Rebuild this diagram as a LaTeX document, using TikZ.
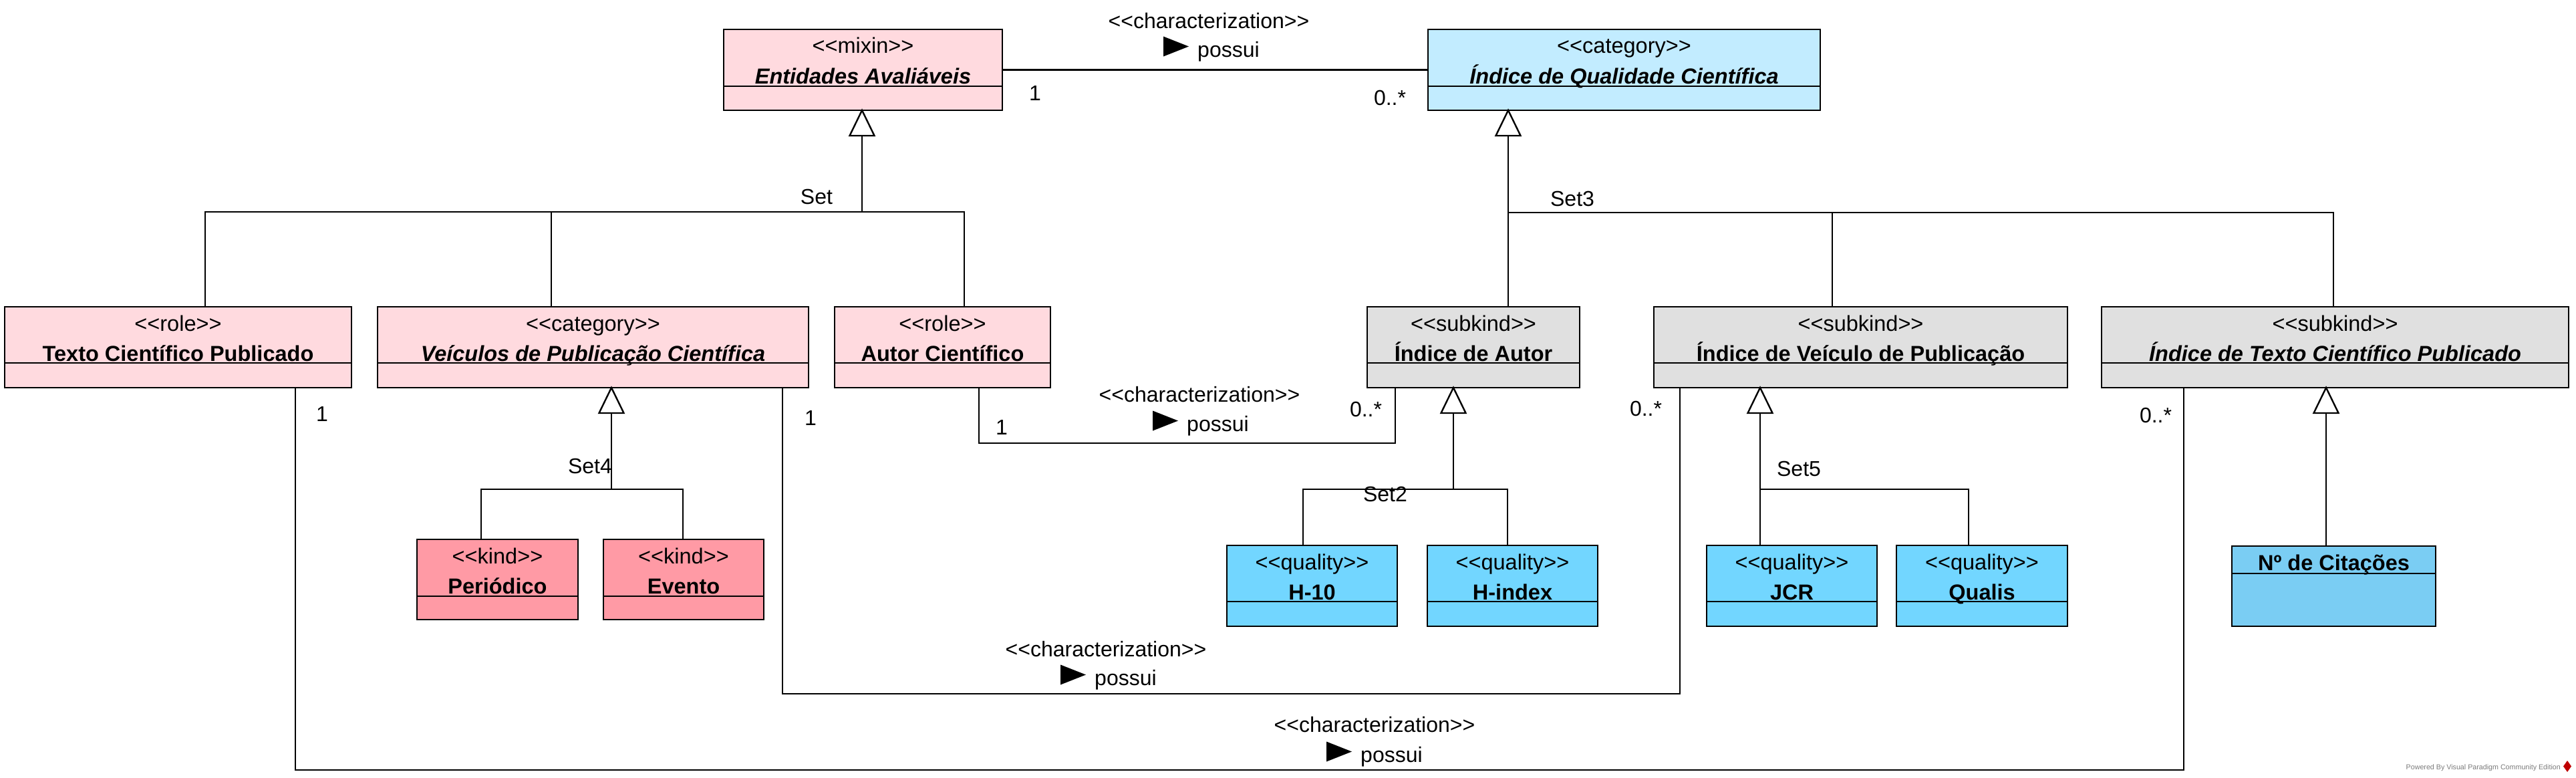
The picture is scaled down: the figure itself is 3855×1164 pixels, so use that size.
\documentclass[tikz,border=0pt]{standalone}
\usepackage{fontspec}
\setmainfont{Liberation Sans}
\usetikzlibrary{calc}
\definecolor{pinkL}{HTML}{FFDADF}
\definecolor{pinkK}{HTML}{FF9AA5}
\definecolor{blueC}{HTML}{C2ECFF}
\definecolor{grayS}{HTML}{E0E0E0}
\definecolor{blueQ}{HTML}{72D6FF}
\definecolor{blueN}{HTML}{7ACDF3}
\definecolor{footgray}{HTML}{7A7A7A}
\newcommand\lgu{<\kern0pt<}
\newcommand\rgu{>\kern0pt>}
\tikzset{
  umlbox/.style={draw=black, line width=2.8pt, inner sep=0pt, outer sep=0pt},
  divline/.style={draw=black, line width=2.8pt},
  conn/.style={draw=black, line width=2.2pt},
  gentri/.style={draw=black, line width=2.4pt, fill=white, line join=miter},
  stereo/.style={font=\fontsize{32.5}{38}\selectfont, anchor=base, inner sep=0pt},
  cname/.style={font=\fontsize{32.5}{38}\selectfont\bfseries, anchor=base, inner sep=0pt},
  lbl/.style={font=\fontsize{32}{38}\selectfont, anchor=base, inner sep=0pt},
  lblw/.style={font=\fontsize{32}{38}\selectfont, anchor=base west, inner sep=0pt},
}
% name, x1, y1, x2, y2, ydiv, fill, stereotype, title
\newcommand\umlclass[9]{%
  \node[umlbox, fill=#7, minimum width={#4-#2}, minimum height={#5-#3}] (#1) at ({(#2+#4)/2},{(#3+#5)/2}) {};
  \draw[divline] (#2,#6) -- (#4,#6);
  \node[stereo] (#1-st) at ({(#2+#4)/2},{#3+36}) {#8};
  \node[cname] (#1-nm) at ({(#2+#4)/2},{#3+81}) {#9};
}
\newcommand\gtri[1]{\draw[gentri] (#1) -- ++(-18.5,38) -- ++(37,0) -- cycle;}
\newcommand\possuitri[1]{\fill[black] ($(#1.base west)+(-51,-30.5)$) -- ++(38,15) -- ++(-38,15) -- cycle;}
\begin{document}
\begin{tikzpicture}[x=1pt,y=-1pt]
\useasboundingbox (0,0) rectangle (3855,1164);

% ---------- classes ----------
\umlclass{ent}{1083}{44}{1500}{165}{129}{pinkL}{\lgu mixin\rgu}{\itshape Entidades Avaliáveis}
\umlclass{iqc}{2137}{44}{2724}{165}{129}{blueC}{\lgu category\rgu}{\itshape Índice de Qualidade Científica}
\umlclass{tcp}{7}{459}{526}{580}{543}{pinkL}{\lgu role\rgu}{Texto Científico Publicado}
\umlclass{vpc}{565}{459}{1210}{580}{543}{pinkL}{\lgu category\rgu}{\itshape Veículos de Publicação Científica}
\umlclass{aut}{1249}{459}{1572}{580}{543}{pinkL}{\lgu role\rgu}{Autor Científico}
\umlclass{ida}{2046}{459}{2364}{580}{543}{grayS}{\lgu subkind\rgu}{Índice de Autor}
\umlclass{ivp}{2475}{459}{3094}{580}{543}{grayS}{\lgu subkind\rgu}{Índice de Veículo de Publicação}
\umlclass{itc}{3145}{459}{3844}{580}{543}{grayS}{\lgu subkind\rgu}{\itshape Índice de Texto Científico Publicado}
\umlclass{per}{624}{807}{865}{927}{892}{pinkK}{\lgu kind\rgu}{Periódico}
\umlclass{evt}{903}{807}{1143}{927}{892}{pinkK}{\lgu kind\rgu}{Evento}
\umlclass{h10}{1836}{816}{2091}{937}{900}{blueQ}{\lgu quality\rgu}{H-10}
\umlclass{hix}{2136}{816}{2391}{937}{900}{blueQ}{\lgu quality\rgu}{H-index}
\umlclass{jcr}{2554}{816}{2809}{937}{900}{blueQ}{\lgu quality\rgu}{JCR}
\umlclass{qua}{2838}{816}{3094}{937}{900}{blueQ}{\lgu quality\rgu}{Qualis}
\node[umlbox, fill=blueN, minimum width=305, minimum height=120] (cit) at (3492.5,877) {};
\draw[divline] (3340,858) -- (3645,858);
\node[cname] (cit-nm) at (3492.5,853) {Nº de Citações};

% ---------- generalization sets ----------
% Set
\coordinate (tEnt) at ($(ent.south west)+(207,0)$);
\coordinate (jEnt) at ($(tEnt)+(0,152)$);
\draw[conn] ($(tEnt)+(0,38)$) -- (jEnt);
\draw[conn] ($(tcp.north west)+(300,0)$) |- (jEnt);
\draw[conn] ($(vpc.north west)+(260,0)$) |- (jEnt);
\draw[conn] ($(aut.north west)+(194,0)$) |- (jEnt);
\gtri{tEnt}
\node[lbl] (setA) at (1222,305) {Set};

% Set3
\coordinate (tIqc) at ($(iqc.south west)+(120,0)$);
\coordinate (jIqc) at ($(tIqc)+(0,153)$);
\draw[conn] ($(tIqc)+(0,38)$) -- ($(ida.north west)+(211,0)$);
\draw[conn] ($(ivp.north west)+(267,0)$) |- (jIqc);
\draw[conn] ($(itc.north west)+(347,0)$) |- (jIqc);
\gtri{tIqc}
\node[lbl] (setC) at (2353,308) {Set3};

% Set4
\coordinate (tVpc) at ($(vpc.south west)+(350,0)$);
\coordinate (jVpc) at ($(tVpc)+(0,152)$);
\draw[conn] ($(tVpc)+(0,38)$) -- (jVpc);
\draw[conn] ($(per.north west)+(96,0)$) |- (jVpc);
\draw[conn] ($(evt.north west)+(119,0)$) |- (jVpc);
\gtri{tVpc}
\node[lbl] (setD) at (883,708) {Set4};

% Set2
\coordinate (tIda) at ($(ida.south west)+(129,0)$);
\coordinate (jIda) at ($(tIda)+(0,152)$);
\draw[conn] ($(tIda)+(0,38)$) -- (jIda);
\draw[conn] ($(h10.north west)+(114,0)$) |- (jIda);
\draw[conn] ($(hix.north west)+(120,0)$) |- (jIda);
\gtri{tIda}
\node[lbl] (setB) at (2073,750) {Set2};

% Set5
\coordinate (tIvp) at ($(ivp.south west)+(159,0)$);
\coordinate (jIvp) at ($(tIvp)+(0,152)$);
\draw[conn] ($(tIvp)+(0,38)$) -- ($(jcr.north west)+(80,0)$);
\draw[conn] ($(qua.north west)+(108,0)$) |- (jIvp);
\gtri{tIvp}
\node[lbl] (setE) at (2692,712) {Set5};

% Indice de Texto -> No de Citacoes
\coordinate (tItc) at ($(itc.south west)+(336,0)$);
\draw[conn] ($(tItc)+(0,38)$) -- ($(cit.north west)+(141,0)$);
\gtri{tItc}

% ---------- characterizations ----------
% A1: Entidades -- Indice de Qualidade
\draw[conn] (ent.east) -- (iqc.west);
\node[lbl] (a1s) at (1809,43) {\lgu characterization\rgu};
\node[lblw] (a1p) at (1792,85) {possui};
\possuitri{a1p}
\node[lbl] (a1m1) at (1549,150) {1};
\node[lbl] (a1m2) at (2080,157) {0..*};

% A2: Autor -- Indice de Autor
\draw[conn] ($(aut.south west)+(216,0)$) -- ++(0,83) -| ($(ida.south west)+(42,0)$);
\node[lbl] (a2s) at (1795,601) {\lgu characterization\rgu};
\node[lblw] (a2p) at (1776,645) {possui};
\possuitri{a2p}
\node[lbl] (a2m1) at (1499,650) {1};
\node[lbl] (a2m2) at (2044,623) {0..*};

% A3: Veiculos -- Indice de Veiculo
\draw[conn] ($(vpc.south west)+(606,0)$) -- ++(0,458) -| ($(ivp.south west)+(39,0)$);
\node[lbl] (a3s) at (1655,982) {\lgu characterization\rgu};
\node[lblw] (a3p) at (1638,1025) {possui};
\possuitri{a3p}
\node[lbl] (a3m1) at (1213,636) {1};
\node[lbl] (a3m2) at (2463,622) {0..*};

% A4: Texto -- Indice de Texto
\draw[conn] ($(tcp.south west)+(435,0)$) -- ++(0,572) -| ($(itc.south west)+(123,0)$);
\node[lbl] (a4s) at (2057,1095) {\lgu characterization\rgu};
\node[lblw] (a4p) at (2036,1140) {possui};
\possuitri{a4p}
\node[lbl] (a4m1) at (482,630) {1};
\node[lbl] (a4m2) at (3226,632) {0..*};

% ---------- footer ----------
\node[font=\fontsize{10.7}{12}\selectfont, text=footgray, anchor=base east, inner sep=0pt] (vp) at (3832,1151) {Powered By Visual Paradigm Community Edition};
\fill[red!75!black] (3842,1138) -- (3848,1146.5) -- (3842,1155) -- (3836,1146.5) -- cycle;
\end{tikzpicture}
\end{document}
